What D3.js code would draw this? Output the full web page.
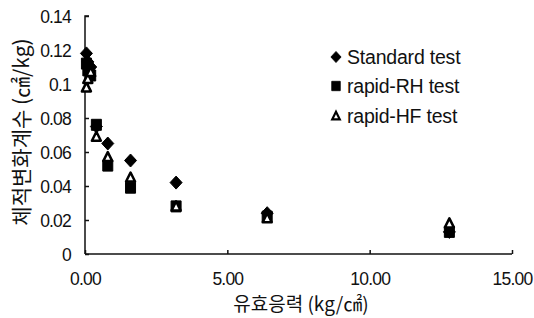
<!DOCTYPE html>
<html><head><meta charset="utf-8">
<script src="https://cdn.jsdelivr.net/npm/d3@7"></script>
<style>body{margin:0;background:#fff}svg{display:block}</style>
</head><body><svg id="c" width="534" height="318"></svg>
<script>
const xTicks = [0, 5, 10, 15];
const xTickLabels = ["0.00", "5.00", "10.00", "15.00"];
const yTicks = [0, 0.02, 0.04, 0.06, 0.08, 0.1, 0.12, 0.14];
const yTickLabels = ["0", "0.02", "0.04", "0.06", "0.08", "0.1", "0.12", "0.14"];
const stress = [0.05, 0.1, 0.2, 0.4, 0.8, 1.6, 3.2, 6.4, 12.8];
const standard = [0.118, 0.113, 0.110, 0.075, 0.065, 0.055, 0.042, 0.024, 0.013];
const rapidRH  = [0.112, 0.108, 0.105, 0.076, 0.052, 0.039, 0.028, 0.022, 0.013];
const rapidHF  = [0.098, 0.103, 0.107, 0.069, 0.057, 0.045, 0.028, 0.021, 0.018];
const seriesNames = ["Standard test", "rapid-RH test", "rapid-HF test"];
const xTitle = "유효응력 (kg/㎠)";
const yTitle = "체적변화계수 (㎠/kg)";

const svg = d3.select("#c");
const x = d3.scaleLinear().domain([0, 15]).range([85, 512]);
const y = d3.scaleLinear().domain([0, 0.14]).range([254, 16]);
const font = "'Liberation Sans', Arial, sans-serif";
const kfont = "'Noto Sans CJK KR', 'Liberation Sans', sans-serif";

// axes
const gy = svg.append("g").attr("transform", "translate(85,0)")
  .call(d3.axisRight(y).tickValues(yTicks).tickSize(4).tickFormat((d,i)=>yTickLabels[i]));
gy.select(".domain").attr("d", "M4,16H0V254");
gy.selectAll("text").attr("x", -14).attr("text-anchor", "end");
const gx = svg.append("g").attr("transform", "translate(0,254)")
  .call(d3.axisTop(x).tickValues(xTicks).tickSize(4).tickFormat((d,i)=>xTickLabels[i]));
gx.select(".domain").attr("d", "M85,0H512");
gx.selectAll("text").attr("y", 31);
[gx, gy].forEach(g => {
  g.selectAll("path,line").attr("stroke", "#111").attr("stroke-width", 1.5);
  g.selectAll("text").attr("fill", "#111").style("font-family", font)
    .style("font-size", "17.5px").style("letter-spacing", "-0.8px");
});
gy.selectAll("text").attr("dy", "0.35em");

// shapes
const diamond = "M0,-6.5L6,0L0,6.5L-6,0Z";
const square = "M-5,-5.5H5V5.5H-5Z";
const tri = "M0,-5L4.5,4H-4.5Z";

function drawSeries(vals, shape, fill, stroke, sw) {
  svg.append("g").selectAll("path").data(vals).join("path")
    .attr("d", shape)
    .attr("transform", (d,i) => `translate(${x(stress[i])},${y(d)})`)
    .attr("fill", fill).attr("stroke", stroke).attr("stroke-width", sw)
    .attr("stroke-linejoin", "round");
}
drawSeries(standard, diamond, "#000", "#000", 1);
drawSeries(rapidRH, square, "#000", "#000", 1);
drawSeries(rapidHF, tri, "#fff", "#000", 2.5);

// legend
const lg = svg.append("g");
const shapes = [[diamond, "#000", 1], [square, "#000", 1], [tri, "#fff", 2.5]];
const ly = [57, 86, 116];
seriesNames.forEach((n, i) => {
  lg.append("path").attr("d", shapes[i][0])
    .attr("transform", `translate(336,${ly[i]}) scale(0.85)`)
    .attr("fill", shapes[i][1]).attr("stroke", "#000").attr("stroke-width", shapes[i][2]);
  lg.append("text").attr("x", 347).attr("y", ly[i]).attr("dy", "0.36em")
    .text(n).attr("fill", "#111").style("font-family", font)
    .style("font-size", "19.5px").style("letter-spacing", "-0.2px");
});

// titles
svg.append("text").attr("x", 301).attr("y", 311).attr("text-anchor", "middle")
  .text(xTitle).attr("fill", "#111").style("font-family", kfont).style("font-size", "19px");
svg.append("text").attr("transform", "translate(29,132) rotate(-90)").attr("text-anchor", "middle")
  .text(yTitle).attr("fill", "#111").style("font-family", kfont).style("font-size", "21px");
</script></body></html>
